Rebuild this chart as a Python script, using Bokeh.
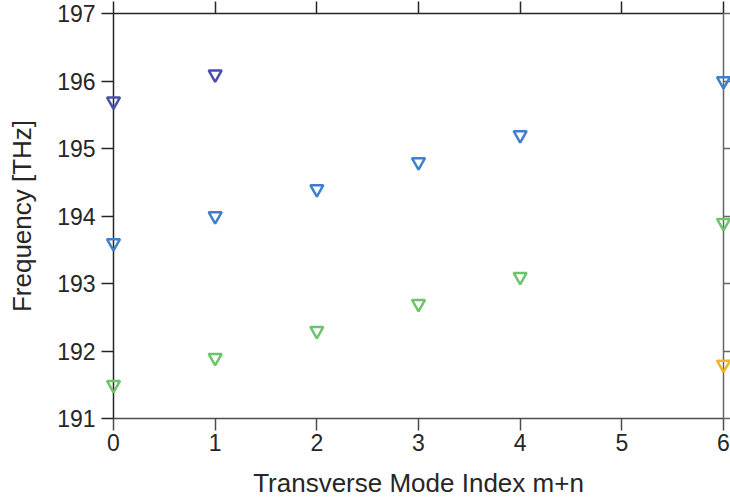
from bokeh.plotting import figure
from bokeh.models import Range1d, LinearAxis, FixedTicker
from bokeh.embed import file_html
from bokeh.resources import INLINE

# Data
purple_x = [0, 1]
purple_y = [195.7, 196.1]
blue_x = [0, 1, 2, 3, 4, 6]
blue_y = [193.6, 194.0, 194.4, 194.8, 195.2, 196.0]
green_x = [0, 1, 2, 3, 4, 6]
green_y = [191.5, 191.9, 192.3, 192.7, 193.1, 193.9]
yellow_x = [6]
yellow_y = [191.8]

x_ticks = [0, 1, 2, 3, 4, 5, 6]
y_ticks = [191, 192, 193, 194, 195, 196, 197]

FONT = "Liberation Sans"

p = figure(width=730, height=504, output_backend="svg", toolbar_location=None,
           x_range=Range1d(0, 6), y_range=Range1d(191, 197),
           x_axis_location=None, y_axis_location=None,
           min_border_left=113, min_border_right=7, min_border_top=13, min_border_bottom=86)
p.outline_line_color = None
p.xgrid.visible = False
p.ygrid.visible = False
p.background_fill_color = "white"
p.border_fill_color = "white"

def style(ax, color, tick_out, ticks, labels=True):
    ax.axis_line_color = color
    ax.axis_line_width = 1.5
    ax.major_tick_line_color = color
    ax.major_tick_line_width = 1.5
    ax.major_tick_out = tick_out
    ax.major_tick_in = 0
    ax.minor_tick_line_color = None
    if labels:
        ax.major_label_text_font = FONT
        ax.major_label_text_font_size = "23px"
        ax.major_label_text_color = "#262626"
        ax.axis_label_text_font = FONT
        ax.axis_label_text_font_size = "26px"
        ax.axis_label_text_font_style = "normal"
        ax.axis_label_text_color = "#262626"
    else:
        ax.major_label_overrides = {t: "" for t in ticks}
        ax.major_label_text_font_size = "1px"
        ax.major_label_standoff = 0

bottom = LinearAxis(ticker=FixedTicker(ticks=x_ticks), axis_label="Transverse Mode Index m+n")
style(bottom, "#4d4d4d", 12, x_ticks)
bottom.major_label_standoff = 3
bottom.axis_label_standoff = 14
p.add_layout(bottom, "below")

left = LinearAxis(ticker=FixedTicker(ticks=y_ticks), axis_label="Frequency [THz]")
style(left, "#262626", 12, y_ticks)
left.major_label_standoff = 6
left.axis_label_standoff = 17
p.add_layout(left, "left")

top = LinearAxis(ticker=FixedTicker(ticks=x_ticks))
style(top, "#262626", 12, x_ticks, labels=False)
p.add_layout(top, "above")

right = LinearAxis(ticker=FixedTicker(ticks=y_ticks))
style(right, "#666666", 7, y_ticks, labels=False)
p.add_layout(right, "right")

series = [
    (purple_x, purple_y, "#4a4faa"),
    (blue_x, blue_y, "#3f80cc"),
    (green_x, green_y, "#6cc46c"),
    (yellow_x, yellow_y, "#f0b426"),
]
for xs, ys, c in series:
    r = p.scatter(xs, ys, marker="inverted_triangle", size=13, fill_color=None,
                  line_color=c, line_width=2.5)
    r.level = "overlay"

open("out.html", "w").write(file_html(p, INLINE))
